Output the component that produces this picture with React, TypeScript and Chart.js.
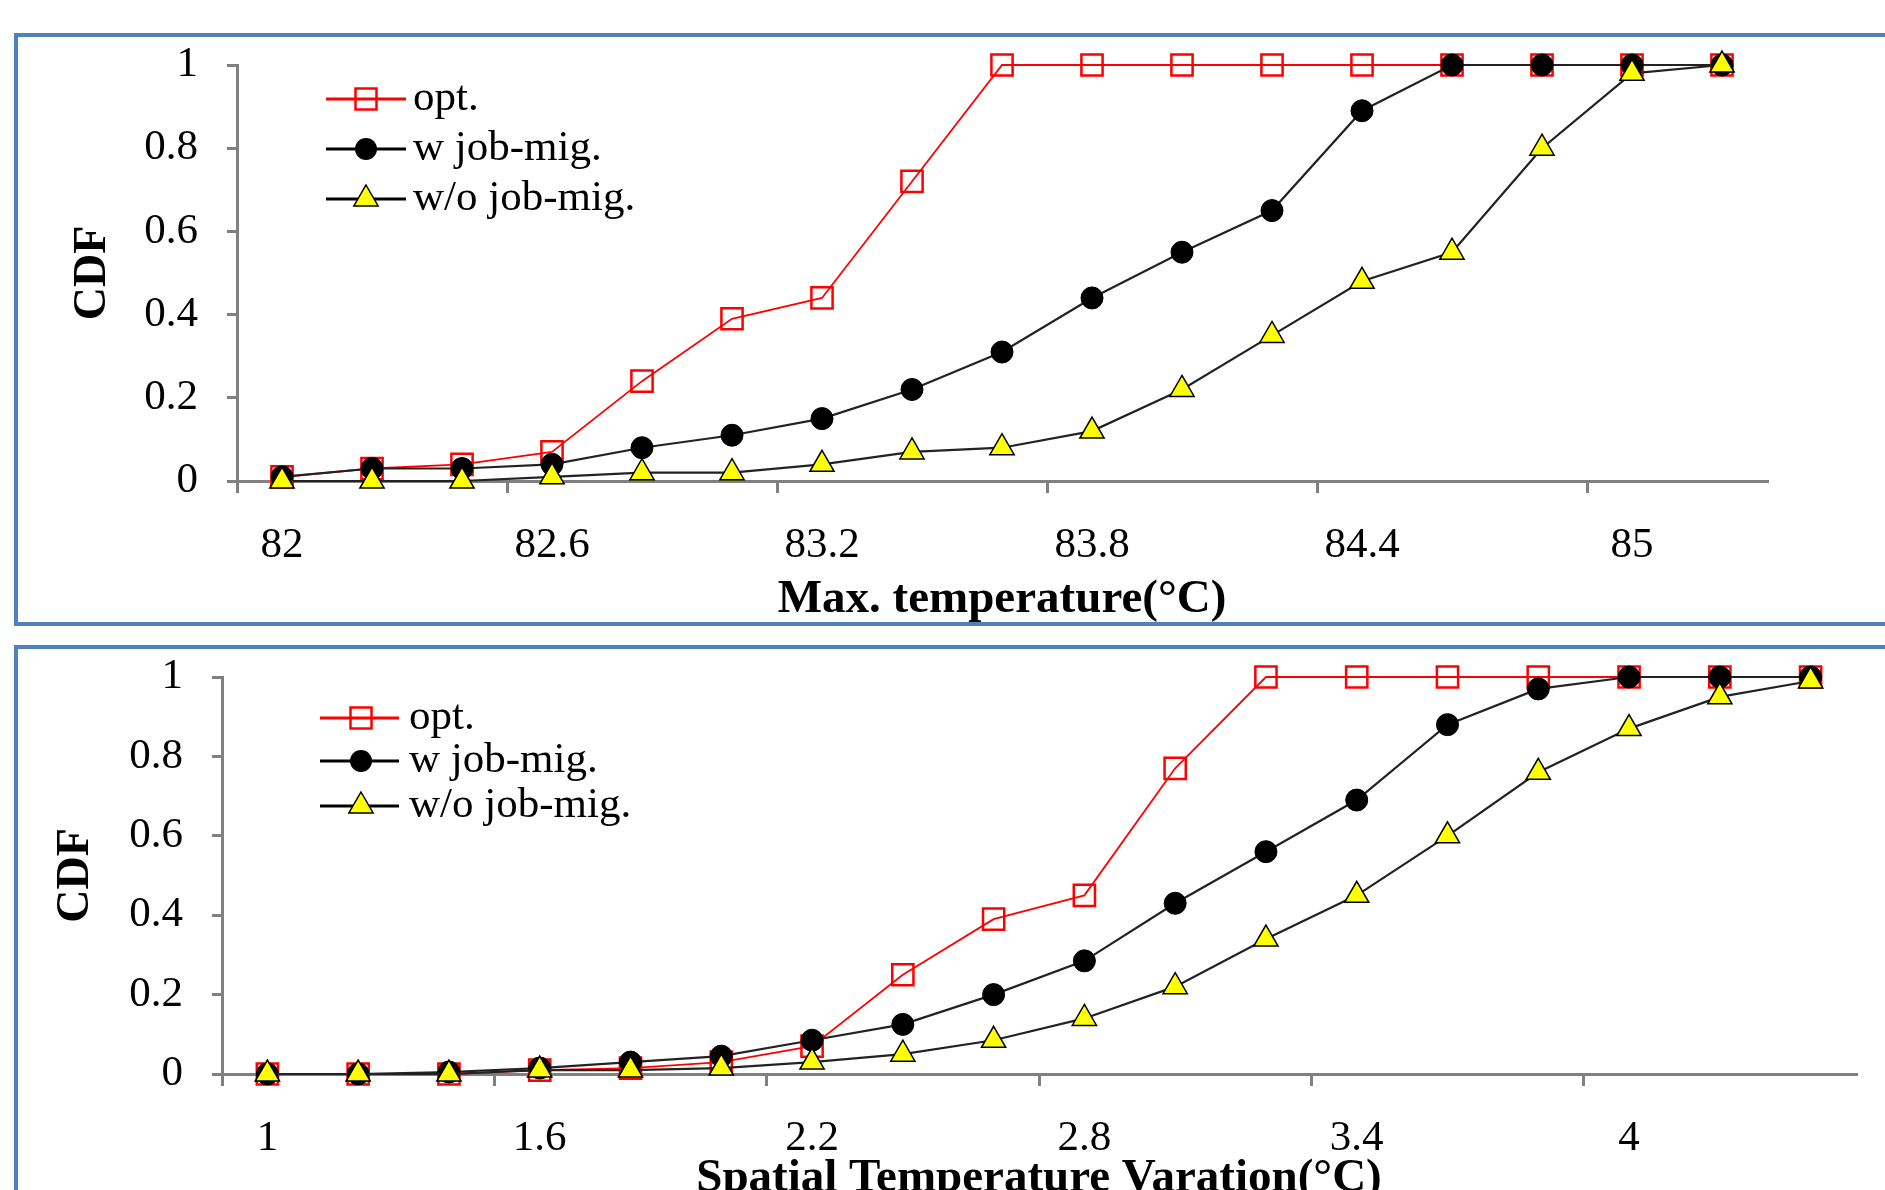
import React, { useEffect, useRef } from "react";
import { Chart, registerables } from "chart.js";

Chart.register(...registerables);

// ---------- data ----------
const seriesNames = ["opt.", "w job-mig.", "w/o job-mig."];

const maxTempLabels = ["82", "82.2", "82.4", "82.6", "82.8", "83", "83.2", "83.4", "83.6", "83.8", "84", "84.2", "84.4", "84.6", "84.8", "85", "85.2"];
const maxTempOpt = [0.01, 0.03, 0.04, 0.07, 0.24, 0.39, 0.44, 0.72, 1, 1, 1, 1, 1, 1, 1, 1, 1];
const maxTempWith = [0.01, 0.03, 0.03, 0.04, 0.08, 0.11, 0.15, 0.22, 0.31, 0.44, 0.55, 0.65, 0.89, 1, 1, 1, 1];
const maxTempWithout = [0, 0, 0, 0.01, 0.02, 0.02, 0.04, 0.07, 0.08, 0.12, 0.22, 0.35, 0.48, 0.55, 0.8, 0.98, 1];

const varLabels = ["1", "1.2", "1.4", "1.6", "1.8", "2", "2.2", "2.4", "2.6", "2.8", "3", "3.2", "3.4", "3.6", "3.8", "4", "4.2", "4.4"];
const varOpt = [0, 0, 0, 0.01, 0.015, 0.03, 0.07, 0.25, 0.39, 0.45, 0.77, 1, 1, 1, 1, 1, 1, 1];
const varWith = [0, 0, 0.005, 0.015, 0.03, 0.045, 0.085, 0.125, 0.2, 0.285, 0.43, 0.56, 0.69, 0.88, 0.97, 1, 1, 1];
const varWithout = [0, 0, 0, 0.01, 0.01, 0.015, 0.03, 0.05, 0.085, 0.14, 0.22, 0.34, 0.45, 0.6, 0.76, 0.87, 0.95, 0.99];

const topXTitle = "Max. temperature(°C)";
const bottomXTitle = "Spatial Temperature Varation(°C)";
const yTitle = "CDF";

// ---------- styling ----------
const SERIF = '"Liberation Serif", "Times New Roman", serif';
const AXIS_GRAY = "#808080";
const PANEL_BLUE = "#4F81BD";

type LegendPos = { x1: number; x2: number; mx: number; tx: number; rows: number[] };

function drawMarker(ctx: CanvasRenderingContext2D, kind: number, x: number, y: number) {
  ctx.save();
  if (kind === 0) {
    ctx.strokeStyle = "#FF0000";
    ctx.lineWidth = 2.5;
    ctx.strokeRect(x - 10.5, y - 10.5, 21, 21);
  } else if (kind === 1) {
    ctx.fillStyle = "#000";
    ctx.beginPath();
    ctx.arc(x, y, 11, 0, Math.PI * 2);
    ctx.fill();
  } else {
    const r = 14;
    ctx.fillStyle = "#FFFF00";
    ctx.strokeStyle = "#000";
    ctx.lineWidth = 1.5;
    ctx.beginPath();
    ctx.moveTo(x, y - r);
    ctx.lineTo(x + r * 0.866, y + r / 2);
    ctx.lineTo(x - r * 0.866, y + r / 2);
    ctx.closePath();
    ctx.fill();
    ctx.stroke();
  }
  ctx.restore();
}

function legendPlugin(pos: LegendPos) {
  return {
    id: "customLegend",
    afterDraw(chart: any) {
      const ctx: CanvasRenderingContext2D = chart.ctx;
      chart.data.datasets.forEach((ds: any, i: number) => {
        const y = pos.rows[i];
        ctx.save();
        ctx.strokeStyle = i === 0 ? "#FF0000" : "#000";
        ctx.lineWidth = 3;
        ctx.beginPath();
        ctx.moveTo(pos.x1, y);
        ctx.lineTo(pos.x2, y);
        ctx.stroke();
        ctx.restore();
        drawMarker(ctx, i, pos.mx, y);
        ctx.save();
        ctx.fillStyle = "#000";
        ctx.font = `43px ${SERIF}`;
        ctx.textBaseline = "middle";
        ctx.textAlign = "left";
        ctx.fillText(ds.label, pos.tx, y);
        ctx.restore();
      });
    },
  };
}

type Params = {
  labels: string[];
  opt: number[];
  withMig: number[];
  withoutMig: number[];
  xTitle: string;
  padTop: number;
  padRight: number;
  yWidth: number;
  xHeight: number;
  xTitlePadBottom: number;
  yTitlePadTop: number;
  legend: LegendPos;
};

function makeConfig(p: Params): any {
  const tickFont = { family: SERIF, size: 43 };
  const titleFont = { family: SERIF, size: 47, weight: "bold" as const };
  return {
    type: "line",
    data: {
      labels: p.labels,
      datasets: [
        {
          label: seriesNames[0],
          data: p.opt,
          order: 2,
          borderColor: "#FF0000",
          borderWidth: 1.8,
          pointStyle: "rect",
          pointRadius: 15,
          pointBorderWidth: 2.5,
          pointBorderColor: "#FF0000",
          pointBackgroundColor: "rgba(0,0,0,0)",
          clip: false,
          tension: 0,
        },
        {
          label: seriesNames[1],
          data: p.withMig,
          order: 1,
          borderColor: "#222",
          borderWidth: 2.2,
          pointStyle: "circle",
          pointRadius: 11,
          pointBorderWidth: 1,
          pointBorderColor: "#000",
          pointBackgroundColor: "#000",
          clip: false,
          tension: 0,
        },
        {
          label: seriesNames[2],
          data: p.withoutMig,
          order: 0,
          borderColor: "#222",
          borderWidth: 2.2,
          pointStyle: "triangle",
          pointRadius: 14,
          pointBorderWidth: 1.5,
          pointBorderColor: "#000",
          pointBackgroundColor: "#FFFF00",
          clip: false,
          tension: 0,
        },
      ],
    },
    options: {
      responsive: false,
      animation: false,
      events: [],
      layout: { padding: { top: p.padTop, right: p.padRight, left: 0, bottom: 0 } },
      plugins: {
        legend: { display: false },
        tooltip: { enabled: false },
        title: { display: false },
      },
      scales: {
        x: {
          type: "category",
          offset: true,
          grid: {
            display: true,
            offset: true,
            drawOnChartArea: false,
            drawTicks: true,
            tickLength: 12,
            tickWidth: 3,
            lineWidth: 3,
            color: AXIS_GRAY,
            tickColor: (c: any) => (c.index % 3 === 0 ? AXIS_GRAY : "rgba(0,0,0,0)"),
          },
          border: { display: true, color: AXIS_GRAY, width: 3 },
          ticks: {
            autoSkip: false,
            maxRotation: 0,
            minRotation: 0,
            padding: 27,
            color: "#000",
            font: tickFont,
            callback: (_v: any, i: number) => (i % 3 === 0 ? p.labels[i] : ""),
          },
          title: {
            display: true,
            text: p.xTitle,
            color: "#000",
            font: titleFont,
            padding: { top: 0, bottom: p.xTitlePadBottom },
          },
          afterFit: (s: any) => {
            s.height = p.xHeight;
          },
        },
        y: {
          type: "linear",
          min: 0,
          max: 1,
          grid: {
            display: true,
            drawOnChartArea: false,
            drawTicks: true,
            tickLength: 10,
            tickWidth: 3,
            lineWidth: 3,
            color: AXIS_GRAY,
            tickColor: AXIS_GRAY,
          },
          border: { display: true, color: AXIS_GRAY, width: 3 },
          ticks: {
            stepSize: 0.2,
            padding: 29,
            color: "#000",
            font: tickFont,
            callback: (v: any) => String(Math.round(Number(v) * 10) / 10),
          },
          title: {
            display: true,
            text: yTitle,
            color: "#000",
            font: { family: SERIF, size: 46, weight: "bold" as const },
            padding: { top: p.yTitlePadTop, bottom: 0 },
          },
          afterFit: (s: any) => {
            s.width = p.yWidth;
            s.paddingTop = 0;
            s.paddingBottom = 0;
          },
        },
      },
    },
    plugins: [legendPlugin(p.legend)],
  };
}

function ChartCanvas({ params, width, height, top }: { params: Params; width: number; height: number; top: number }) {
  const ref = useRef<HTMLCanvasElement | null>(null);
  useEffect(() => {
    if (!ref.current) return;
    const chart = new Chart(ref.current, makeConfig(params));
    return () => chart.destroy();
  }, []);
  return (
    <canvas
      ref={ref}
      width={width}
      height={height}
      style={{ position: "absolute", left: 0, top, width, height, display: "block" }}
    />
  );
}

const topParams: Params = {
  labels: maxTempLabels,
  opt: maxTempOpt,
  withMig: maxTempWith,
  withoutMig: maxTempWithout,
  xTitle: topXTitle,
  padTop: 65,
  padRight: 118,
  yWidth: 237,
  xHeight: 159,
  xTitlePadBottom: 12,
  yTitlePadTop: 66,
  legend: { x1: 326, x2: 406, mx: 366, tx: 413, rows: [99, 149, 199] },
};

const bottomParams: Params = {
  labels: varLabels,
  opt: varOpt,
  withMig: varWith,
  withoutMig: varWithout,
  xTitle: bottomXTitle,
  padTop: 37,
  padRight: 29,
  yWidth: 222,
  xHeight: 150,
  xTitlePadBottom: 17,
  yTitlePadTop: 49,
  legend: { x1: 320, x2: 399, mx: 361, tx: 409, rows: [78, 121, 166] },
};

export default function App() {
  return (
    <div
      style={{
        position: "fixed",
        left: 0,
        top: 0,
        width: 1885,
        height: 1190,
        overflow: "hidden",
        background: "#fff",
      }}
    >
      <ChartCanvas params={topParams} width={1885} height={640} top={0} />
      <ChartCanvas params={bottomParams} width={1885} height={584} top={640} />
      <div
        style={{
          position: "absolute",
          left: 14,
          top: 33,
          width: 1920,
          height: 593,
          boxSizing: "border-box",
          border: `4px solid ${PANEL_BLUE}`,
          pointerEvents: "none",
        }}
      />
      <div
        style={{
          position: "absolute",
          left: 14,
          top: 645,
          width: 1920,
          height: 700,
          boxSizing: "border-box",
          border: `4px solid ${PANEL_BLUE}`,
          pointerEvents: "none",
        }}
      />
    </div>
  );
}
